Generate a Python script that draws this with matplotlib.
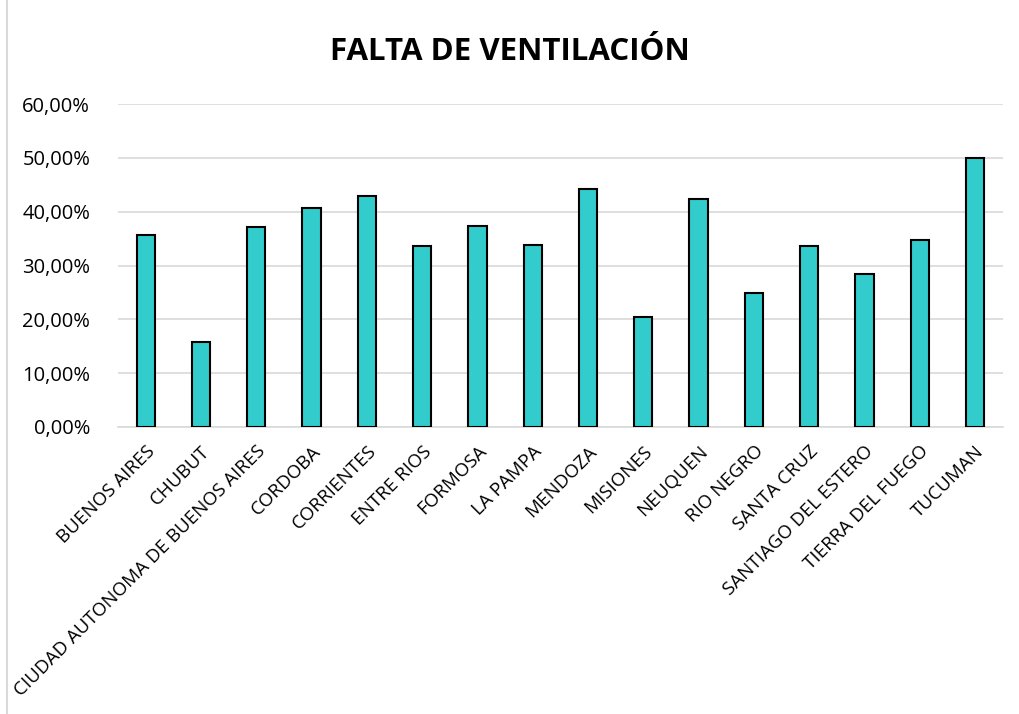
import matplotlib.pyplot as plt
from matplotlib.patches import Rectangle
from matplotlib.ticker import FuncFormatter

plt.rcParams['font.family'] = ['Open Sans', 'DejaVu Sans']

# Falta de ventilación por provincia (%)
provincias = ['BUENOS AIRES', 'CHUBUT', 'CIUDAD AUTONOMA DE BUENOS AIRES', 'CORDOBA',
              'CORRIENTES', 'ENTRE RIOS', 'FORMOSA', 'LA PAMPA', 'MENDOZA', 'MISIONES',
              'NEUQUEN', 'RIO NEGRO', 'SANTA CRUZ', 'SANTIAGO DEL ESTERO',
              'TIERRA DEL FUEGO', 'TUCUMAN']
valores = [35.6, 15.8, 37.2, 40.6, 43.0, 33.6, 37.3, 33.8, 44.2, 20.4,
           42.4, 24.9, 33.6, 28.5, 34.8, 50.0]
yticks = [0, 10, 20, 30, 40, 50, 60]

fig = plt.figure(figsize=(10.2, 7.14), dpi=100)
ax = fig.add_axes([0.1157, 0.402, 0.8673, 0.4523])

x = range(len(provincias))
ax.bar(x, valores, width=0.33, color='#33CCCC', edgecolor='black', linewidth=1.5, zorder=3)

ax.set_xlim(-0.5, len(provincias) - 0.5)
ax.set_ylim(0, 60)
ax.set_yticks(yticks)
ax.yaxis.set_major_formatter(FuncFormatter(lambda v, p: f'{v:.2f}%'.replace('.', ',')))
ax.set_xticks(list(x))
ax.set_xticklabels(provincias, rotation=45, ha='right', rotation_mode='anchor')
ax.tick_params(axis='x', length=0, labelsize=13.5, colors='black', pad=11)
ax.tick_params(axis='y', length=0, labelsize=14.5, colors='black', pad=20)

ax.grid(axis='y', color='#d9d9d9', linewidth=1.2, zorder=0)
for s in ['top', 'right', 'left']:
    ax.spines[s].set_visible(False)
ax.spines['bottom'].set_color('#d9d9d9')
ax.spines['bottom'].set_linewidth(1.2)

fig.suptitle('FALTA DE VENTILACIÓN', fontsize=22.5, fontweight='bold', y=0.948)

# Borde del área del gráfico
fig.patches.append(Rectangle((7 / 1020, -0.05), 1.1, 1.1, transform=fig.transFigure,
                             fill=False, edgecolor='#d9d9d9', linewidth=1.5))

fig.savefig('out.png', dpi=100)
